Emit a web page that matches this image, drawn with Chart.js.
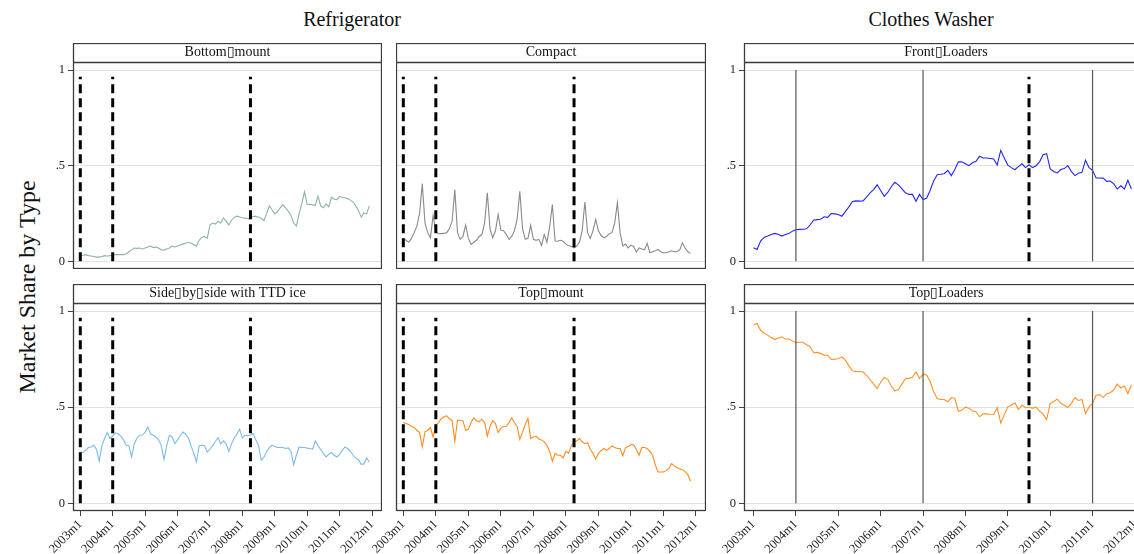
<!DOCTYPE html>
<html>
<head>
<meta charset="utf-8">
<script src="https://cdn.jsdelivr.net/npm/chart.js@4.4.1/dist/chart.umd.min.js"></script>
<style>
html,body{margin:0;padding:0;overflow:hidden;background:#fff;}
#wrap{position:relative;width:1134px;height:554px;overflow:hidden;font-family:'Liberation Serif','Times New Roman',serif;}
canvas{position:absolute;}
.gt{position:absolute;font-size:20px;line-height:26px;color:#111;white-space:nowrap;transform:translateX(-50%);}
#ytitle{position:absolute;left:27px;top:287px;font-size:24px;color:#111;white-space:nowrap;transform:translate(-50%,-50%) rotate(-90deg);}
</style>
</head>
<body>
<div id="wrap">
  <div class="gt" style="left:352px;top:6px;">Refrigerator</div>
  <div class="gt" style="left:931px;top:6px;">Clothes Washer</div>
  <div id="ytitle">Market Share by Type</div>
  <canvas id="c1" width="347" height="226" style="left:35px;top:43px;"></canvas>
  <canvas id="c2" width="310" height="226" style="left:396px;top:43px;"></canvas>
  <canvas id="c3" width="443" height="226" style="left:705px;top:43px;"></canvas>
  <canvas id="c4" width="347" height="270" style="left:35px;top:284px;"></canvas>
  <canvas id="c5" width="346" height="270" style="left:360px;top:284px;"></canvas>
  <canvas id="c6" width="443" height="270" style="left:705px;top:284px;"></canvas>
</div>
<script>
// ---- tick labels ----
const xTickLabels = ['2003m1','2004m1','2005m1','2006m1','2007m1','2008m1','2009m1','2010m1','2011m1','2012m1'];
const xTickMonths = [0,12,24,36,48,60,72,84,96,108];
const yTickValues = [0, 0.5, 1];
const yTickLabels = ['0', '.5', '1'];

// ---- event lines (month index, 0 = 2003m1) ----
const fridgeDashed = [0, 12, 63];
const washerSolid = [12, 48, 96];
const washerDashed = [78];

// ---- series (monthly, starting 2003m1) ----
const bottomMount = [
0.03,0.032,0.035,0.03,0.028,0.025,0.022,0.022,0.025,0.03,0.028,0.03,
0.033,0.035,0.035,0.035,0.035,0.04,0.05,0.06,0.07,0.068,0.07,0.065,
0.07,0.075,0.08,0.072,0.075,0.07,0.06,0.058,0.065,0.07,0.08,0.075,
0.08,0.085,0.09,0.095,0.10,0.095,0.088,0.08,0.11,0.125,0.13,0.12,
0.19,0.20,0.195,0.21,0.20,0.227,0.21,0.19,0.215,0.23,0.236,0.232,
0.228,0.226,0.224,0.222,0.236,0.235,0.23,0.225,0.213,0.25,0.29,0.27,
0.248,0.26,0.28,0.297,0.28,0.262,0.24,0.20,0.184,0.25,0.30,0.363,
0.297,0.298,0.295,0.293,0.34,0.29,0.28,0.30,0.285,0.335,0.325,0.323,
0.34,0.335,0.332,0.328,0.32,0.31,0.29,0.265,0.231,0.253,0.248,0.29];

const compact = [
0.118,0.11,0.10,0.12,0.15,0.184,0.25,0.406,0.20,0.15,0.123,0.24,
0.158,0.144,0.145,0.146,0.15,0.17,0.21,0.375,0.15,0.115,0.13,0.19,
0.12,0.089,0.10,0.11,0.13,0.14,0.20,0.358,0.17,0.123,0.16,0.245,
0.163,0.16,0.14,0.115,0.13,0.16,0.22,0.366,0.17,0.115,0.12,0.188,
0.115,0.11,0.115,0.083,0.141,0.10,0.18,0.297,0.106,0.105,0.11,0.105,
0.09,0.083,0.078,0.071,0.08,0.10,0.16,0.31,0.15,0.12,0.16,0.219,
0.16,0.135,0.123,0.13,0.145,0.15,0.20,0.306,0.15,0.08,0.09,0.07,
0.085,0.078,0.049,0.07,0.065,0.06,0.094,0.045,0.05,0.055,0.0625,0.05,
0.045,0.045,0.05,0.055,0.05,0.05,0.06,0.097,0.07,0.05,0.042];

const frontLoaders = [
0.071,0.062,0.106,0.125,0.132,0.14,0.146,0.142,0.132,0.14,0.145,0.158,
0.165,0.167,0.168,0.17,0.19,0.215,0.218,0.22,0.233,0.23,0.25,0.248,
0.245,0.236,0.26,0.285,0.3125,0.316,0.315,0.316,0.335,0.358,0.375,0.40,
0.37,0.34,0.36,0.39,0.413,0.40,0.38,0.358,0.35,0.35,0.314,0.35,
0.323,0.33,0.37,0.42,0.453,0.455,0.458,0.476,0.448,0.48,0.52,0.52,
0.51,0.5,0.515,0.523,0.549,0.54,0.54,0.538,0.535,0.503,0.58,0.54,
0.503,0.49,0.479,0.495,0.51,0.49,0.505,0.49,0.50,0.52,0.557,0.5625,
0.483,0.47,0.462,0.48,0.485,0.50,0.47,0.448,0.46,0.465,0.528,0.49,
0.476,0.436,0.436,0.435,0.418,0.42,0.405,0.378,0.395,0.378,0.424,0.378];

const sideBySide = [
0.267,0.265,0.275,0.29,0.293,0.302,0.28,0.219,0.30,0.337,0.368,0.337,
0.35,0.366,0.36,0.35,0.33,0.302,0.30,0.241,0.31,0.34,0.354,0.355,
0.37,0.398,0.36,0.354,0.345,0.33,0.30,0.227,0.30,0.354,0.345,0.31,
0.33,0.35,0.371,0.36,0.34,0.30,0.26,0.215,0.30,0.302,0.30,0.267,
0.28,0.30,0.32,0.342,0.31,0.325,0.31,0.27,0.31,0.34,0.36,0.385,
0.34,0.355,0.35,0.355,0.363,0.33,0.30,0.224,0.24,0.27,0.29,0.302,
0.295,0.29,0.29,0.29,0.285,0.288,0.27,0.201,0.25,0.293,0.29,0.29,
0.287,0.285,0.281,0.325,0.30,0.28,0.26,0.241,0.255,0.265,0.25,0.241,
0.255,0.275,0.293,0.285,0.27,0.25,0.235,0.227,0.203,0.205,0.236,0.214];

const topMount = [
0.42,0.415,0.41,0.40,0.395,0.38,0.368,0.293,0.372,0.38,0.394,0.345,
0.406,0.42,0.44,0.45,0.455,0.44,0.43,0.323,0.432,0.432,0.43,0.38,
0.385,0.42,0.444,0.43,0.425,0.4375,0.42,0.349,0.40,0.43,0.415,0.368,
0.39,0.40,0.401,0.42,0.444,0.42,0.40,0.333,0.37,0.41,0.441,0.337,
0.345,0.35,0.335,0.33,0.32,0.302,0.27,0.219,0.26,0.25,0.25,0.236,
0.27,0.26,0.30,0.319,0.325,0.337,0.32,0.31,0.315,0.28,0.26,0.229,
0.26,0.275,0.285,0.275,0.285,0.299,0.29,0.285,0.285,0.247,0.29,0.295,
0.306,0.305,0.28,0.25,0.29,0.29,0.285,0.27,0.25,0.20,0.163,0.163,
0.163,0.17,0.18,0.207,0.195,0.185,0.18,0.175,0.165,0.149,0.115];

const topLoaders = [
0.927,0.936,0.90,0.885,0.875,0.862,0.852,0.86,0.866,0.855,0.855,0.845,
0.835,0.838,0.838,0.825,0.815,0.783,0.785,0.78,0.771,0.77,0.748,0.75,
0.752,0.762,0.745,0.715,0.689,0.686,0.685,0.684,0.665,0.644,0.62,0.597,
0.63,0.655,0.645,0.61,0.585,0.59,0.62,0.648,0.65,0.655,0.684,0.649,
0.672,0.668,0.635,0.58,0.545,0.54,0.54,0.528,0.55,0.545,0.479,0.485,
0.50,0.495,0.48,0.476,0.45,0.465,0.465,0.463,0.462,0.498,0.418,0.46,
0.502,0.51,0.523,0.488,0.51,0.50,0.498,0.495,0.50,0.48,0.464,0.436,
0.519,0.53,0.542,0.52,0.51,0.498,0.52,0.55,0.535,0.54,0.467,0.50,
0.519,0.5625,0.565,0.55,0.57,0.575,0.59,0.62,0.60,0.61,0.571,0.615];

const SERIF = "'Liberation Serif','Times New Roman',serif";
const STRIP_H = 19;

const framePlugin = {
  id: 'panelFrame',
  afterDraw(chart) {
    const ca = chart.chartArea, ctx = chart.ctx;
    const top = ca.top - STRIP_H;
    ctx.save();
    ctx.strokeStyle = '#3c3c3c';
    ctx.lineWidth = 1.3;
    ctx.strokeRect(ca.left + 0.5, top + 0.5, ca.right - ca.left - 1, ca.bottom - top - 1);
    ctx.beginPath();
    ctx.moveTo(ca.left, ca.top + 0.5);
    ctx.lineTo(ca.right, ca.top + 0.5);
    ctx.stroke();
    ctx.restore();
  }
};

function vline(x, dashed) {
  return {
    data: [{x: x, y: 0}, {x: x, y: dashed ? 0.965 : 1}],
    borderColor: dashed ? '#000' : '#555',
    borderWidth: dashed ? 3 : 1.2,
    borderDash: dashed ? [9, 5] : [],
    pointRadius: 0,
    fill: false
  };
}

function makePanel(id, title, values, color, o) {
  const datasets = [];
  o.dashed.forEach(x => datasets.push(vline(x, true)));
  (o.solid || []).forEach(x => datasets.push(vline(x, false)));
  datasets.push({
    data: values.map((v, i) => ({x: i, y: v})),
    borderColor: color,
    borderWidth: 1.1,
    pointRadius: 0,
    tension: 0,
    fill: false
  });
  new Chart(document.getElementById(id), {
    type: 'line',
    data: {datasets},
    options: {
      responsive: false,
      animation: false,
      devicePixelRatio: 1,
      layout: {padding: 0, autoPadding: false},
      plugins: {
        legend: {display: false},
        tooltip: {enabled: false},
        title: {
          display: true, text: title, fullSize: false, color: '#111',
          font: {family: SERIF, size: 14, weight: 'normal', lineHeight: 1.2},
          padding: {top: 1.2, bottom: 1}
        }
      },
      scales: {
        x: {
          type: 'linear', min: -2.7, max: 111.7,
          display: o.showX,
          border: {display: false},
          grid: {display: true, drawOnChartArea: false, drawTicks: true, tickLength: 5, tickColor: '#444'},
          ticks: {
            autoSkip: false, maxRotation: 45, minRotation: 45, padding: 1,
            color: '#222', font: {family: SERIF, size: 12.5},
            callback: (v, i) => xTickLabels[i]
          },
          afterBuildTicks: s => { s.ticks = xTickMonths.map(m => ({value: m})); },
          afterFit: s => { s.height = o.xH; s.paddingLeft = 0; s.paddingRight = 0; }
        },
        y: {
          min: -0.04, max: 1.042,
          border: {display: false},
          grid: {color: '#e2e2e2', lineWidth: 1, drawTicks: o.showY, tickLength: 5, tickColor: '#444'},
          ticks: {
            display: o.showY, padding: 3, color: '#222',
            font: {family: SERIF, size: 12.5},
            callback: (v, i) => yTickLabels[i]
          },
          afterBuildTicks: s => { s.ticks = yTickValues.map(v => ({value: v})); },
          afterFit: s => { s.width = o.yW; s.paddingTop = 0; s.paddingBottom = 0; }
        }
      }
    },
    plugins: [framePlugin]
  });
}

const BOX = '\u25AF';
makePanel('c1', 'Bottom' + BOX + 'mount', bottomMount, '#8db3a3', {dashed: fridgeDashed, showX: false, showY: true, xH: 0, yW: 38});
makePanel('c2', 'Compact', compact, '#8a8a8a', {dashed: fridgeDashed, showX: false, showY: false, xH: 0, yW: 0});
makePanel('c3', 'Front' + BOX + 'Loaders', frontLoaders, '#2424ff', {dashed: washerDashed, solid: washerSolid, showX: false, showY: true, xH: 0, yW: 39});
makePanel('c4', 'Side' + BOX + 'by' + BOX + 'side with TTD ice', sideBySide, '#7cbbe8', {dashed: fridgeDashed, showX: true, showY: true, xH: 43, yW: 38});
makePanel('c5', 'Top' + BOX + 'mount', topMount, '#ff8c1f', {dashed: fridgeDashed, showX: true, showY: false, xH: 43, yW: 36});
makePanel('c6', 'Top' + BOX + 'Loaders', topLoaders, '#ff9226', {dashed: washerDashed, solid: washerSolid, showX: true, showY: true, xH: 43, yW: 39});
</script>
</body>
</html>
